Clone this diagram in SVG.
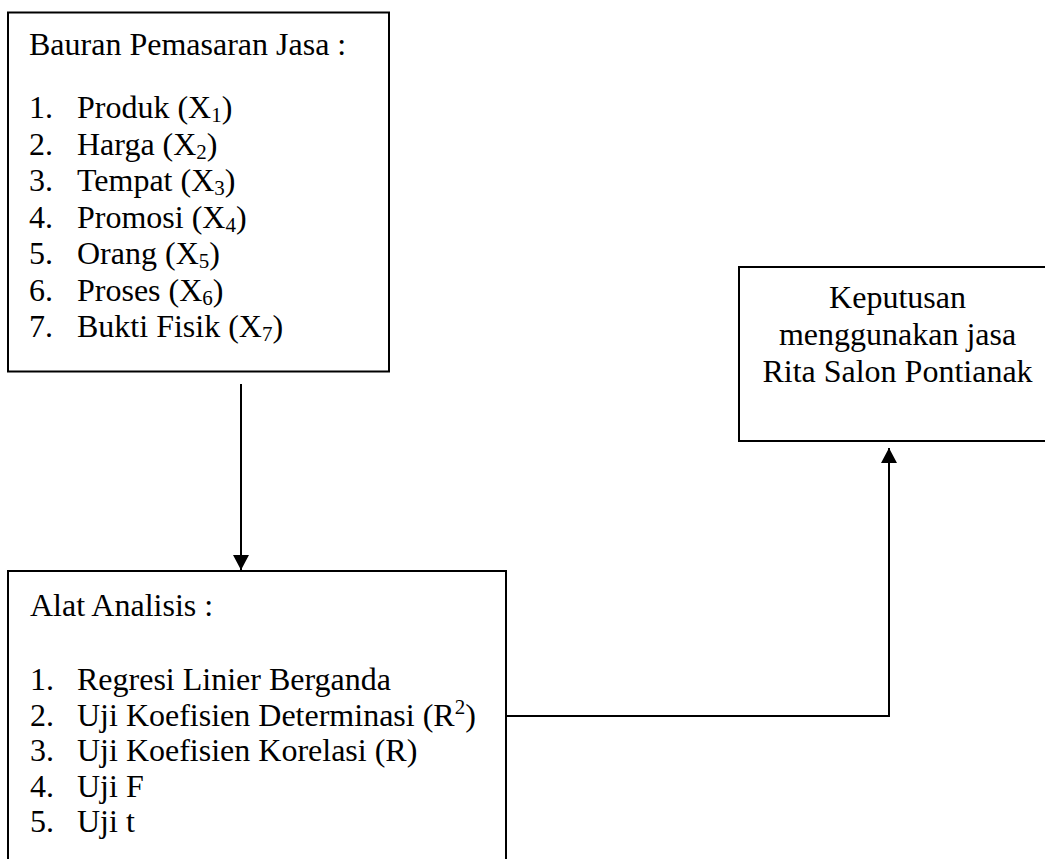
<svg xmlns="http://www.w3.org/2000/svg" width="1045" height="859" viewBox="0 0 1045 859">
<style>
.box{fill:#fff;stroke:#000;stroke-width:2}
.t{font-family:"Liberation Serif","Times New Roman",serif;font-size:32px;fill:#000}
.c{text-anchor:middle}
.sub{font-size:21px}
.line{fill:none;stroke:#000;stroke-width:2}
</style>
<defs>
<marker id="ah" markerWidth="16" markerHeight="16" viewBox="0 0 16 16" refX="15" refY="8" orient="auto" markerUnits="userSpaceOnUse">
<path d="M0,0 L15,8 L0,16 Z" fill="#000"/>
</marker>
</defs>
<rect width="1045" height="859" fill="#fff"/>
<g id="bauran">
<rect class="box" x="8" y="12.5" width="381" height="359"/>
<text class="t" x="29" y="55">Bauran Pemasaran Jasa :</text>
<text class="t" x="29" y="118">1.</text><text class="t" x="77" y="118">Produk (X<tspan class="sub" dy="4">1</tspan><tspan dy="-4">)</tspan></text>
<text class="t" x="29" y="154.5">2.</text><text class="t" x="77" y="154.5">Harga (X<tspan class="sub" dy="4">2</tspan><tspan dy="-4">)</tspan></text>
<text class="t" x="29" y="191">3.</text><text class="t" x="77" y="191">Tempat (X<tspan class="sub" dy="4">3</tspan><tspan dy="-4">)</tspan></text>
<text class="t" x="29" y="227.5">4.</text><text class="t" x="77" y="227.5">Promosi (X<tspan class="sub" dy="4">4</tspan><tspan dy="-4">)</tspan></text>
<text class="t" x="29" y="264">5.</text><text class="t" x="77" y="264">Orang (X<tspan class="sub" dy="4">5</tspan><tspan dy="-4">)</tspan></text>
<text class="t" x="29" y="300.5">6.</text><text class="t" x="77" y="300.5">Proses (X<tspan class="sub" dy="4">6</tspan><tspan dy="-4">)</tspan></text>
<text class="t" x="29" y="337">7.</text><text class="t" x="77" y="337">Bukti Fisik (X<tspan class="sub" dy="4">7</tspan><tspan dy="-4">)</tspan></text>
</g>
<g id="keputusan">
<rect class="box" x="739" y="267" width="320" height="174"/>
<text class="t c" x="897.5" y="308">Keputusan</text>
<text class="t c" x="897.5" y="345">menggunakan jasa</text>
<text class="t c" x="897.5" y="382">Rita Salon Pontianak</text>
</g>
<g id="alat">
<rect class="box" x="8" y="571" width="498" height="300"/>
<text class="t" x="30" y="616">Alat Analisis :</text>
<text class="t" x="30" y="690">1.</text><text class="t" x="77" y="690">Regresi Linier Berganda</text>
<text class="t" x="30" y="726">2.</text><text class="t" x="77" y="726">Uji Koefisien Determinasi (R<tspan class="sub" dy="-12">2</tspan><tspan dy="12">)</tspan></text>
<text class="t" x="30" y="761">3.</text><text class="t" x="77" y="761">Uji Koefisien Korelasi (R)</text>
<text class="t" x="30" y="797">4.</text><text class="t" x="77" y="797">Uji F</text>
<text class="t" x="30" y="832">5.</text><text class="t" x="77" y="832">Uji t</text>
</g>
<g id="connectors">
<line class="line" x1="241" y1="384" x2="241" y2="570" marker-end="url(#ah)"/>
<polyline class="line" points="506,716 889,716 889,448" marker-end="url(#ah)"/>
</g>
</svg>
